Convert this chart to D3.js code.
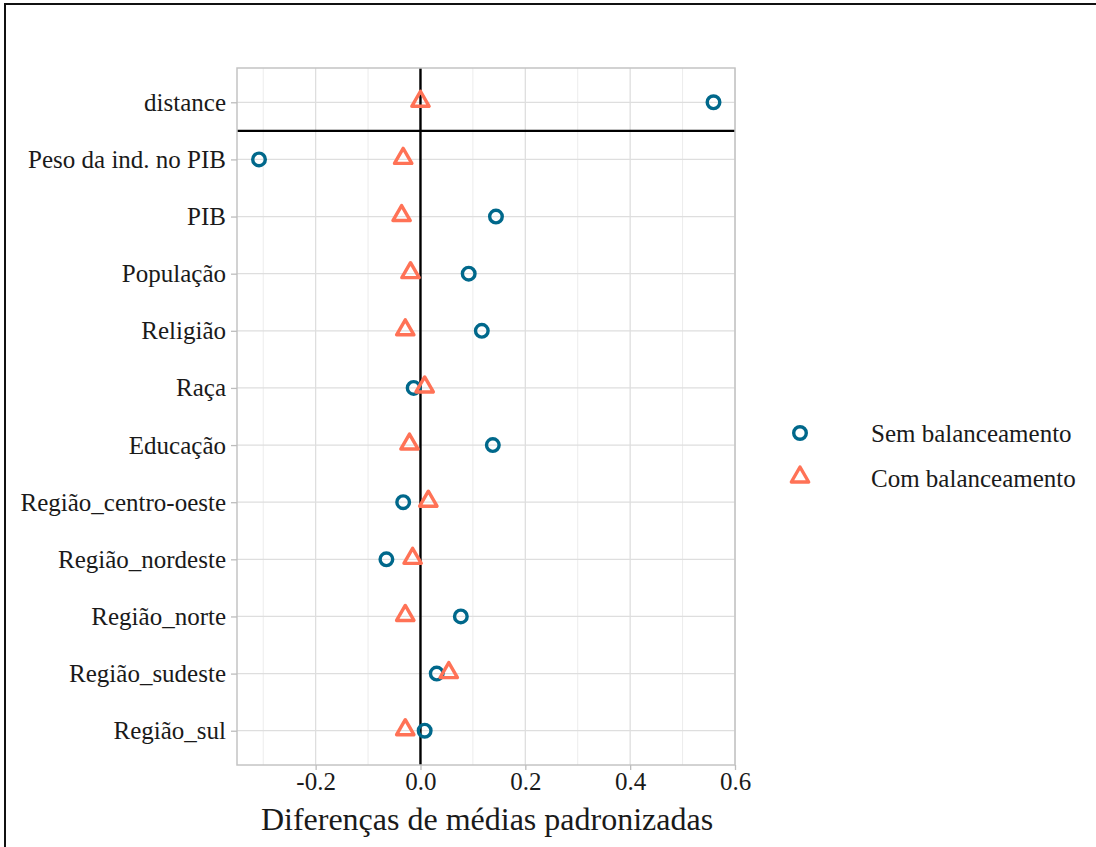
<!DOCTYPE html>
<html>
<head>
<meta charset="utf-8">
<script src="https://cdn.jsdelivr.net/npm/d3@7"></script>
<style>
  body { margin: 0; background: #fff; }
  text { font-family: "Liberation Serif", "DejaVu Serif", serif; fill: #1a1a1a; }
</style>
</head>
<body>
<svg id="chart" width="1096" height="847"></svg>
<script>
// Variáveis (de cima para baixo)
const variables = ["distance", "Peso da ind. no PIB", "PIB", "População", "Religião", "Raça", "Educação",
  "Região_centro-oeste", "Região_nordeste", "Região_norte", "Região_sudeste", "Região_sul"];

// Diferenças padronizadas
const semBalanceamento = [0.559, -0.308, 0.144, 0.092, 0.117, -0.013, 0.138, -0.033, -0.065, 0.077, 0.031, 0.008];
const comBalanceamento = [0.000, -0.033, -0.036, -0.019, -0.029, 0.008, -0.021, 0.015, -0.015, -0.029, 0.054, -0.029];

const seriesNames = ["Sem balanceamento", "Com balanceamento"];
const xTicks = [-0.2, 0.0, 0.2, 0.4, 0.6];
const xTickLabels = ["-0.2", "0.0", "0.2", "0.4", "0.6"];
const xMinor = [-0.3, -0.1, 0.1, 0.3, 0.5];

const blue = "#00688B", coral = "#FF7256";

const svg = d3.select("#chart");

// moldura externa
svg.append("path")
    .attr("d", "M5,847 L5,4 L1096,4")
    .attr("fill", "none")
    .attr("stroke", "#111")
    .attr("stroke-width", 2);

const pLeft = 237, pRight = 735, pTop = 68, pBottom = 765;

const x = d3.scaleLinear().domain([-0.35, 0.6]).range([pLeft, pRight]);
const y = d3.scalePoint().domain(variables).range([pTop, pBottom]).padding(0.6);

const g = svg.append("g");

// grade menor
g.selectAll(".minor").data(xMinor).enter().append("line")
    .attr("x1", d => x(d)).attr("x2", d => x(d))
    .attr("y1", pTop).attr("y2", pBottom)
    .attr("stroke", "#ececec").attr("stroke-width", 1);

// grade maior
g.selectAll(".vmajor").data(xTicks).enter().append("line")
    .attr("x1", d => x(d)).attr("x2", d => x(d))
    .attr("y1", pTop).attr("y2", pBottom)
    .attr("stroke", "#dedede").attr("stroke-width", 1.3);

g.selectAll(".hmajor").data(variables).enter().append("line")
    .attr("x1", pLeft).attr("x2", pRight)
    .attr("y1", d => y(d)).attr("y2", d => y(d))
    .attr("stroke", "#dedede").attr("stroke-width", 1.3);

// linhas de referência
g.append("line")
    .attr("x1", x(0)).attr("x2", x(0))
    .attr("y1", pTop).attr("y2", pBottom)
    .attr("stroke", "#000").attr("stroke-width", 2.4);

const sepY = (y(variables[0]) + y(variables[1])) / 2;
g.append("line")
    .attr("x1", pLeft).attr("x2", pRight)
    .attr("y1", sepY).attr("y2", sepY)
    .attr("stroke", "#000").attr("stroke-width", 2.4);

// borda do painel
g.append("rect")
    .attr("x", pLeft).attr("y", pTop)
    .attr("width", pRight - pLeft).attr("height", pBottom - pTop)
    .attr("fill", "none").attr("stroke", "#c4c4c4").attr("stroke-width", 1.5);

// eixos
const xAxis = g.append("g")
    .attr("transform", `translate(0,${pBottom})`)
    .call(d3.axisBottom(x).tickValues(xTicks).tickFormat((d, i) => xTickLabels[i]).tickSize(5).tickPadding(2));
const yAxis = g.append("g")
    .attr("transform", `translate(${pLeft},0)`)
    .call(d3.axisLeft(y).tickSize(6).tickPadding(5));

[xAxis, yAxis].forEach(a => {
  a.select(".domain").remove();
  a.selectAll(".tick line").attr("stroke", "#bdbdbd").attr("stroke-width", 1.3);
  a.selectAll(".tick text").style("font-size", "25px").attr("fill", "#1a1a1a")
      .style("font-family", "'Liberation Serif', serif");
});
xAxis.selectAll(".tick text").attr("dy", "0.71em");

svg.append("text")
    .attr("x", (pLeft + pRight) / 2 + 1).attr("y", 830)
    .attr("text-anchor", "middle")
    .style("font-size", "32px")
    .text("Diferenças de médias padronizadas");

// pontos
const tri = d3.symbol().type(d3.symbolTriangle).size(130);

g.selectAll(".sem").data(semBalanceamento).enter().append("circle")
    .attr("cx", d => x(d)).attr("cy", (d, i) => y(variables[i]))
    .attr("r", 6.3)
    .attr("fill", "none").attr("stroke", blue).attr("stroke-width", 3.4);

g.selectAll(".com").data(comBalanceamento).enter().append("path")
    .attr("d", tri)
    .attr("transform", (d, i) => `translate(${x(d)},${y(variables[i]) - 1})`)
    .attr("fill", "none").attr("stroke", coral).attr("stroke-width", 3.4)
    .attr("stroke-linejoin", "round");

// legenda
const legend = svg.append("g").attr("transform", "translate(800,433)");
legend.append("circle").attr("cx", 0).attr("cy", 0).attr("r", 6.3)
    .attr("fill", "none").attr("stroke", blue).attr("stroke-width", 3.4);
legend.append("path").attr("d", tri).attr("transform", "translate(0,44)")
    .attr("fill", "none").attr("stroke", coral).attr("stroke-width", 3.4)
    .attr("stroke-linejoin", "round");
legend.selectAll(".lt").data(seriesNames).enter().append("text")
    .attr("x", 71).attr("y", (d, i) => i * 45)
    .attr("dy", "0.35em")
    .style("font-size", "25px")
    .text(d => d);
</script>
</body>
</html>
